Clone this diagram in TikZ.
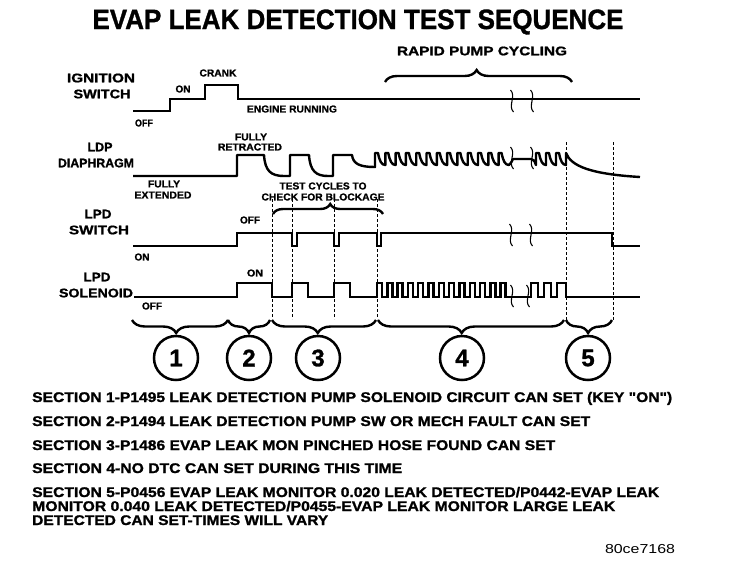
\documentclass[tikz,border=0pt]{standalone}
\usepackage{graphicx}
\usepackage{fontspec}
\setmainfont{Liberation Sans}
\newfontfamily\lsans{Liberation Sans}[BoldFeatures={FakeBold=1.2}]
\newfontfamily\lsansreg{Liberation Sans}
\usetikzlibrary{decorations.pathreplacing}
\newcommand{\fw}[3]{\resizebox{#2}{\height}{\lsans\fontsize{#1}{#1}\selectfont\bfseries #3}}
\tikzset{brkmark/.pic={\draw[line width=1.1pt] (-1.5,-11) .. controls (4.5,-5) and (-4.5,5) .. (1.5,11);}}
\begin{document}
\begin{tikzpicture}[x=1pt,y=-1pt,
  wave/.style={line width=2.4pt},
  thinwave/.style={line width=1.1pt},
  dashline/.style={line width=0.9pt, dash pattern=on 3pt off 2pt},
  upbrace/.style 2 args={line width=2.4pt, decorate, decoration={brace, amplitude=#1, aspect=#2}},
  downbrace/.style 2 args={line width=2.4pt, decorate, decoration={brace, mirror, amplitude=#1, aspect=#2}},
  lbl/.style={inner sep=0pt},
  numcirc/.style={circle, draw, line width=2.5pt, minimum size=44pt, inner sep=0pt, font=\lsans\fontsize{24}{24}\selectfont\bfseries}
]
\useasboundingbox (0,0) rectangle (736,566);

% title
\node[lbl] (title) at (358,22) {\fw{28}{531pt}{EVAP LEAK DETECTION TEST SEQUENCE}};
\node[lbl] (rapid) at (482,51) {\fw{12.5}{170pt}{RAPID PUMP CYCLING}};

% row labels
\node[lbl] (ign1) at (101,78) {\fw{12.5}{68pt}{IGNITION}};
\node[lbl] (ign2) at (102,94) {\fw{12.5}{57pt}{SWITCH}};
\node[lbl] (ldp1) at (100,147) {\fw{12.5}{25pt}{LDP}};
\node[lbl] (ldp2) at (96,163) {\fw{12.5}{76pt}{DIAPHRAGM}};
\node[lbl] (sw1) at (98,214) {\fw{12.5}{27pt}{LPD}};
\node[lbl] (sw2) at (99,230) {\fw{12.5}{60pt}{SWITCH}};
\node[lbl] (sol1) at (97,277) {\fw{12.5}{27pt}{LPD}};
\node[lbl] (sol2) at (96,293) {\fw{12.5}{74pt}{SOLENOID}};

% small labels
\node[lbl] (ioff) at (144,123) {\fw{10}{18pt}{OFF}};
\node[lbl] (ion) at (183,89) {\fw{10}{15pt}{ON}};
\node[lbl] (icrank) at (218,73) {\fw{10}{37pt}{CRANK}};
\node[lbl] (irun) at (292,109) {\fw{10}{90pt}{ENGINE RUNNING}};
\node[lbl] (fr1) at (251,137) {\fw{10}{32pt}{FULLY}};
\node[lbl] (fr2) at (250,147) {\fw{10}{64pt}{RETRACTED}};
\node[lbl] (fe1) at (164,184) {\fw{10}{32pt}{FULLY}};
\node[lbl] (fe2) at (163,195) {\fw{10}{57pt}{EXTENDED}};
\node[lbl] (tc1) at (323,186) {\fw{10}{87pt}{TEST CYCLES TO}};
\node[lbl] (tc2) at (323,197) {\fw{10}{123pt}{CHECK FOR BLOCKAGE}};
\node[lbl] (swoff) at (250,220) {\fw{10}{20pt}{OFF}};
\node[lbl] (swon) at (142,257) {\fw{10}{15pt}{ON}};
\node[lbl] (solon) at (255,273) {\fw{10}{16pt}{ON}};
\node[lbl] (soloff) at (152,306) {\fw{10}{20pt}{OFF}};

% ignition switch
\draw[wave] (133,111) -- (170,111) -- (170,99) -- (205,99) -- (205,85) -- (238,85) -- (238,99) -- (512,99);
\draw[thinwave] (512,99) -- (532,99);
\draw[wave] (532,99) -- (640,99);
\pic at (512,101) {brkmark};
\pic at (532,101) {brkmark};

% LDP diaphragm
\draw[wave, line join=round] (133,176) -- (237,176) -- (237,155) -- (264,155)
  .. controls (265,171) and (271,176) .. (284,176) -- (290,176) -- (290,155) -- (309,155)
  .. controls (310,171) and (316,176) .. (328,176) -- (333,176) -- (333,155) -- (352,155)
  .. controls (353,164) and (360,167) .. (375,167)
  foreach \i in {0,...,12} { -- ({375+10.3*\i},153) -- ({378+10.3*\i},153)
     .. controls ({379.5+10.3*\i},161) and ({381.5+10.3*\i},165) .. ({385.3+10.3*\i},165) }
  .. controls (511,163) .. (513,159) -- (531,159) .. controls (534,160) .. (536,165)
  foreach \x in {536,546,556} { -- (\x,153) -- ({\x+3},153)
     .. controls ({\x+4.5},161) and ({\x+6.5},165) .. ({\x+10},165) }
  -- (566,153) .. controls (571,166) and (590,174) .. (640,177);
\pic at (512,158) {brkmark};
\pic at (532,158) {brkmark};

% LPD switch
\draw[wave] (133,246) -- (237,246) -- (237,233) -- (292,233) -- (292,246) -- (297,246) -- (297,233)
  -- (334,233) -- (334,246) -- (339,246) -- (339,233) -- (377,233) -- (377,246) -- (381,246)
  -- (381,233) -- (612,233) -- (612,246) -- (640,246);
\pic at (511,235) {brkmark};
\pic at (531,235) {brkmark};

% LPD solenoid
\draw[wave] (134,297) -- (237,297) -- (237,283) -- (272,283) -- (272,297) -- (292,297) -- (292,283)
  -- (308,283) -- (308,297) -- (334,297) -- (334,283) -- (350,283) -- (350,297) -- (377,297)
  foreach \i in {0,...,12} { -- ({377+10.3*\i},283) -- ({382+10.3*\i},283) -- ({382+10.3*\i},297) -- ({387.3+10.3*\i},297) }
  -- (531,297) -- (531,283) -- (538,283) -- (538,297) -- (544,297) -- (544,283) -- (551,283)
  -- (551,297) -- (557,297) -- (557,283) -- (566,283) -- (566,297) -- (640,297);
\pic at (512,296) {brkmark};
\pic at (528,296) {brkmark};

% dashed guide lines
\foreach \x in {272,292,334,377} \draw[dashline] (\x,199) -- (\x,319);
\draw[dashline] (566,142) -- (566,321);
\draw[dashline] (613,142) -- (613,321);

% braces
\coordinate (rb1) at (385,82);
\coordinate (rb2) at (572,82);
\draw[upbrace={12pt}{0.49}] (rb1) -- (rb2);
\coordinate (tb1) at (273,214);
\coordinate (tb2) at (383,214);
\draw[upbrace={10pt}{0.52}] (tb1) -- (tb2);

\coordinate (b0) at (132,320);
\coordinate (b1) at (228,320);
\coordinate (b2) at (270,320);
\coordinate (b3) at (272,320);
\coordinate (b4) at (376,320);
\coordinate (b5) at (378,320);
\coordinate (b6) at (564,320);
\coordinate (b7) at (566,320);
\coordinate (b8) at (612,320);
\draw[downbrace={13pt}{0.46}] (b0) -- (b1);
\draw[downbrace={13pt}{0.5}] (b1) -- (b2);
\draw[downbrace={13pt}{0.44}] (b3) -- (b4);
\draw[downbrace={13pt}{0.45}] (b5) -- (b6);
\draw[downbrace={13pt}{0.48}] (b7) -- (b8);

\node[numcirc] (c1) at (176,358) {1};
\node[numcirc] (c2) at (249,358) {2};
\node[numcirc] (c3) at (318,358) {3};
\node[numcirc] (c4) at (462,358) {4};
\node[numcirc] (c5) at (588,358) {5};

% section texts
\node[lbl, anchor=base west] (s1) at (32,402) {\fw{14}{640pt}{SECTION 1-P1495 LEAK DETECTION PUMP SOLENOID CIRCUIT CAN SET (KEY "ON")}};
\node[lbl, anchor=base west] (s2) at (32,426) {\fw{14}{558pt}{SECTION 2-P1494 LEAK DETECTION PUMP SW OR MECH FAULT CAN SET}};
\node[lbl, anchor=base west] (s3) at (32,450) {\fw{14}{523pt}{SECTION 3-P1486 EVAP LEAK MON PINCHED HOSE FOUND CAN SET}};
\node[lbl, anchor=base west] (s4) at (32,473) {\fw{14}{370pt}{SECTION 4-NO DTC CAN SET DURING THIS TIME}};
\node[lbl, anchor=base west] (s5a) at (32,497) {\fw{14}{627pt}{SECTION 5-P0456 EVAP LEAK MONITOR 0.020 LEAK DETECTED/P0442-EVAP LEAK}};
\node[lbl, anchor=base west] (s5b) at (32,511) {\fw{14}{583pt}{MONITOR 0.040 LEAK DETECTED/P0455-EVAP LEAK MONITOR LARGE LEAK}};
\node[lbl, anchor=base west] (s5c) at (32,525) {\fw{14}{296pt}{DETECTED CAN SET-TIMES WILL VARY}};
\node[lbl] (code) at (640,549) {\resizebox{70pt}{\height}{\lsansreg\fontsize{13}{13}\selectfont 80ce7168}};
\end{tikzpicture}
\end{document}
